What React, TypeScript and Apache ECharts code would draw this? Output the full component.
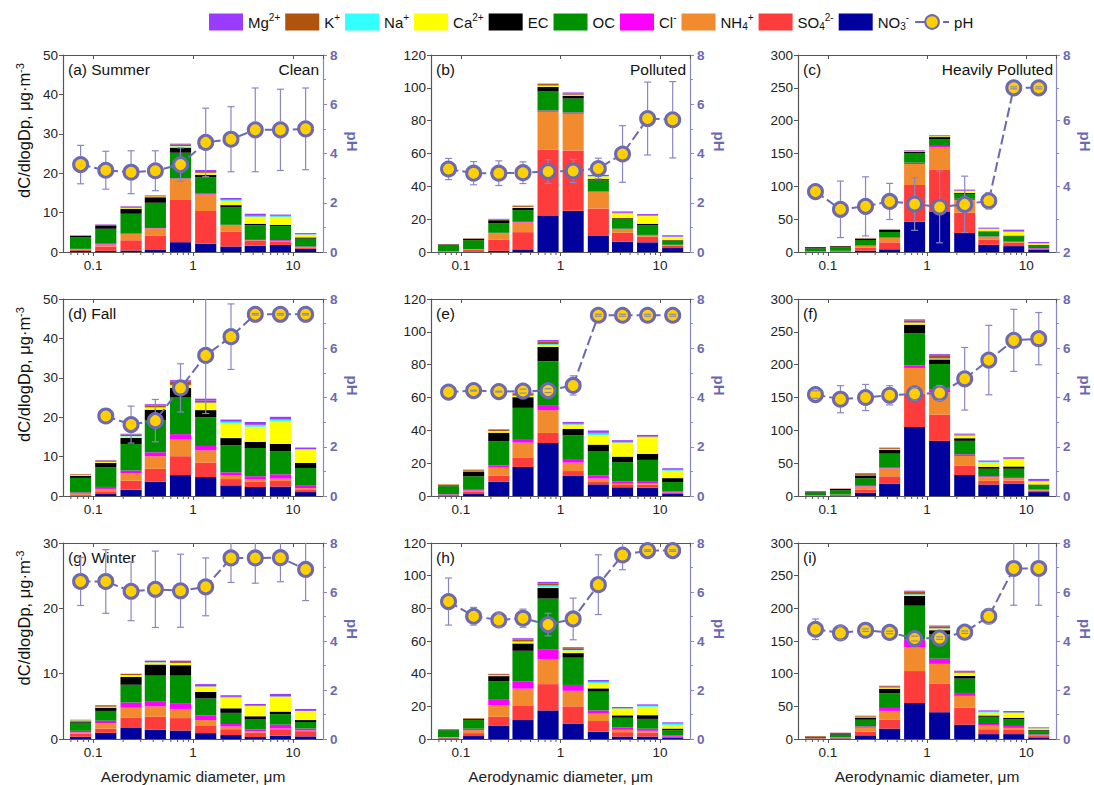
import React, { useEffect, useRef } from 'react';
import * as echarts from 'echarts';

// Size-bin centres (aerodynamic diameter, µm)
const SIZES = [0.075, 0.134, 0.24, 0.42, 0.75, 1.34, 2.4, 4.2, 7.5, 13.4];
const MINOR_TICKS = [0.06, 0.07, 0.08, 0.09, 0.2, 0.3, 0.4, 0.5, 0.6, 0.7, 0.8, 0.9, 2, 3, 4, 5, 6, 7, 8, 9];
const MAJOR_TICK_LABELS = [0.1, 1, 10];

const PANEL_LABELS = ['(a) Summer', '(b)', '(c)', '(d) Fall', '(e)', '(f)', '(g) Winter', '(h)', '(i)'];
const CONDITION_LABELS = ['Clean', 'Polluted', 'Heavily Polluted', '', '', '', '', '', ''];
const LEFT_MAX = [50, 120, 300, 50, 120, 300, 30, 120, 300];
const LEFT_STEP = [10, 20, 50, 10, 20, 50, 10, 20, 50];
const PH_MIN = [0, 0, 2, 0, 0, 0, 0, 0, 0];
const PH_MAX = 8;
const PH_STEP = 2;

// Components: one row per panel (a..i), one value per size bin
const NO3 = [
  [0.3, 0.3, 0.4, 0.5, 2.5, 2.1, 1.4, 1.6, 1.8, 0.8],
  [0.1, 0.3, 0.7, 1.6, 22.3, 25.1, 10.1, 6.3, 5.9, 2.4],
  [0.3, 0.5, 2, 4.1, 46, 61, 29, 11, 9, 3],
  [0.1, 0.5, 1.6, 3.6, 5.3, 4.8, 2.7, 2.3, 2.4, 1.0],
  [0.3, 1.2, 8.6, 17.7, 32.3, 12.2, 7.1, 5.3, 5.1, 1.2],
  [0.3, 0.8, 5, 19, 105, 84, 32, 17.5, 19, 6],
  [0.35, 0.95, 1.7, 1.4, 1.3, 0.9, 0.6, 0.3, 0.5, 0.4],
  [0.3, 1.8, 8, 11.6, 17.5, 9.5, 4.5, 1.5, 1.5, 0.6],
  [0.3, 0.8, 5.6, 16, 55, 41, 22, 7.5, 7.5, 2.5],
];
const SO4 = [
  [0.3, 1.1, 2.6, 3.6, 10.7, 8.3, 3.7, 1.2, 0.9, 0.3],
  [0.2, 0.9, 6.8, 10.5, 40.0, 36.8, 16.4, 5.4, 3.6, 1.4],
  [0.4, 0.9, 4.6, 10.6, 56, 64, 31, 7.5, 5.5, 1.5],
  [0.3, 0.7, 2.3, 3.3, 4.8, 3.7, 1.6, 1.3, 1.4, 0.7],
  [0.3, 1.3, 3.8, 5.5, 6.1, 3.0, 1.8, 1.4, 1.8, 0.7],
  [0.4, 0.8, 4.5, 11, 51, 40, 14, 5.5, 4.5, 2],
  [0.45, 0.65, 1.6, 2.0, 1.9, 1.2, 0.9, 0.7, 1.0, 0.8],
  [0.5, 1.8, 5.6, 8.6, 16.1, 10.5, 6.5, 2.7, 2.5, 0.7],
  [0.5, 1.0, 5.6, 13.5, 49, 44, 26, 7.5, 6.5, 2],
];
const NH4 = [
  [0.1, 0.5, 1.6, 1.9, 5.4, 4.2, 1.7, 0.2, 0.1, 0.1],
  [0.1, 0.5, 3.9, 5.9, 23.1, 22.3, 10.1, 2.1, 0.5, 0.3],
  [0.2, 0.3, 2.6, 6.6, 32, 35, 19, 4.5, 0.8, 0.3],
  [0.2, 0.6, 1.8, 3.2, 4.3, 3.1, 0.9, 0.6, 0.6, 0.3],
  [0.2, 0.8, 4.9, 9.3, 13.9, 5.1, 1.7, 0.8, 0.7, 0.2],
  [0.3, 0.4, 5, 12, 39, 34, 15, 5.5, 3.5, 1],
  [0.2, 0.8, 1.5, 1.6, 1.4, 0.8, 0.4, 0.2, 0.1, 0.1],
  [0.2, 1.8, 7.2, 10.6, 15.4, 9.5, 4.5, 1.4, 1.0, 0.1],
  [0.3, 0.5, 6.1, 13.5, 36, 30, 18, 5.5, 3, 0.8],
];
const CL = [
  [0.1, 0.2, 0.1, 0.1, 0.1, 0.2, 0.1, 0.3, 0.2, 0.2],
  [0, 0.1, 0.3, 0.4, 0.8, 0.8, 0.4, 0.4, 0.4, 0.3],
  [0.1, 0.1, 0.6, 1.1, 2, 1.5, 2, 0.7, 1.2, 1.0],
  [0.3, 0.5, 0.8, 1.0, 1.3, 1.1, 0.8, 0.8, 1.1, 0.6],
  [0.3, 0.5, 1.4, 1.7, 2.7, 1.7, 1.8, 1.4, 1.5, 0.6],
  [0.1, 0.2, 1.0, 2, 4, 4, 2.5, 1.5, 2, 1],
  [0.25, 0.4, 0.8, 0.8, 0.8, 0.7, 0.4, 0.3, 0.6, 0.3],
  [0.2, 0.9, 3.2, 4.3, 6.0, 3.6, 2.0, 1.4, 1.3, 0.9],
  [0.2, 0.3, 2.1, 4.5, 12, 8, 4.5, 2.5, 3, 1.7],
];
const OC = [
  [3.0, 3.8, 5.0, 6.4, 6.5, 4.2, 4.4, 3.5, 3.6, 2.0],
  [3.8, 5.4, 5.7, 7.1, 11.6, 8.5, 6.6, 5.6, 6.0, 2.4],
  [4.5, 5.2, 8.5, 8.1, 14, 10.5, 7.5, 6.8, 7.5, 4.0],
  [3.7, 5.0, 6.7, 8.2, 9.3, 7.3, 6.9, 7.2, 5.9, 4.5],
  [4.8, 8.2, 14.7, 19.5, 27, 15.0, 15.0, 11.7, 12.9, 5.8],
  [4.3, 6.5, 11.5, 20.5, 49, 39, 20.5, 11.5, 12.5, 6],
  [1.25, 1.5, 2.7, 3.9, 4.3, 2.6, 1.7, 1.5, 1.6, 1.0],
  [4.2, 5.3, 11.4, 18.9, 31, 16.7, 11.5, 6.0, 6.0, 3.1],
  [1.8, 4.2, 10.1, 22.5, 52, 37, 22, 11, 10, 5],
];
const EC = [
  [0.3, 0.7, 1.3, 1.4, 1.3, 0.6, 0.6, 0.4, 0.3, 0.3],
  [0.4, 0.8, 2.0, 1.4, 2.8, 1.7, 0.8, 0.8, 0.8, 0.4],
  [1.8, 1.8, 2.0, 3.0, 2.5, 3, 1.5, 1.0, 1.0, 1.0],
  [0.5, 1.1, 1.5, 2.6, 2.4, 1.8, 1.8, 1.6, 1.8, 1.3],
  [0.7, 3.0, 5.2, 6.5, 8.8, 3.9, 3.9, 3.4, 3.6, 2.4],
  [1.5, 2.0, 4.5, 6, 13, 7, 4, 3, 3.5, 1.5],
  [0.2, 0.5, 1.2, 1.7, 1.6, 1.0, 0.7, 0.5, 0.4, 0.3],
  [0.4, 0.6, 3.1, 4.5, 6.5, 2.8, 2.0, 1.5, 2.3, 1.0],
  [0.5, 2.0, 3.5, 7, 15, 6.5, 4, 2, 2.5, 1.5],
];
const CA = [
  [0, 0, 0.2, 0.2, 0.3, 0.4, 1.1, 1.7, 1.9, 0.7],
  [0, 0, 0.3, 0.5, 0.6, 0.4, 1.6, 2.7, 4.7, 1.8],
  [0, 0, 0.3, 0.5, 0.6, 1, 2.5, 3.0, 5.5, 2.2],
  [0.2, 0.3, 0.4, 0.5, 0.6, 1.7, 3.7, 3.8, 5.8, 3.3],
  [0.2, 0.4, 0.8, 0.8, 1.0, 2.5, 5.8, 8.4, 10.0, 4.5],
  [0.2, 0.3, 0.5, 1.0, 2, 1, 3.5, 6.5, 10.5, 4.5],
  [0.1, 0.15, 0.25, 0.3, 0.3, 0.8, 1.6, 1.55, 2.25, 1.35],
  [0.1, 0.2, 0.5, 1.0, 0.5, 1.6, 3.2, 4.0, 5.1, 2.2],
  [0.2, 0.3, 1.0, 1.5, 0.8, 2.5, 3.5, 4.5, 7, 2.5],
];
const NA = [
  [0, 0, 0, 0, 0.1, 0.1, 0.2, 0.2, 0.3, 0.1],
  [0, 0, 0, 0.1, 0.2, 0.2, 0.2, 0.4, 0.2, 0.3],
  [0, 0, 0, 0.1, 0.2, 0.3, 0.5, 0.8, 0.5, 0.3],
  [0, 0, 0.1, 0.1, 0.2, 0.2, 0.4, 0.4, 0.4, 0.2],
  [0, 0, 0.2, 0.2, 0.7, 0.3, 1.0, 0.3, 0.4, 0.4],
  [0, 0, 0.2, 0.3, 1, 0.5, 0.8, 0.8, 0.8, 0.5],
  [0.05, 0, 0.05, 0.05, 0.05, 0.05, 0.1, 0.05, 0.05, 0.05],
  [0, 0, 0.1, 0.2, 1.0, 0.3, 0.8, 0.3, 0.5, 0.7],
  [0, 0, 0.2, 0.3, 1.7, 0.5, 1.5, 1.3, 1.0, 0.4],
];
const K = [
  [0.1, 0.3, 0.3, 0.2, 0.4, 0.2, 0.1, 0.1, 0.1, 0],
  [0.1, 0.3, 0.4, 0.6, 0.9, 0.8, 0.1, 0.2, 0.1, 0.1],
  [0.3, 0.4, 0.6, 0.8, 1.1, 1.0, 0.6, 0.3, 0.3, 0.2],
  [0.2, 0.3, 0.4, 0.5, 0.8, 0.5, 0.1, 0.1, 0.1, 0],
  [0.3, 0.5, 0.8, 1.2, 1.5, 0.5, 0.4, 0.3, 0.3, 0.2],
  [0.5, 0.5, 2.3, 1.4, 3.5, 5, 1.2, 0.5, 0.5, 0.5],
  [0.1, 0.2, 0.15, 0.2, 0.3, 0.05, 0.05, 0, 0.05, 0],
  [0.2, 0.4, 0.6, 1.3, 1.3, 1.1, 0.4, 0.2, 0.3, 0.2],
  [0.8, 0.4, 1.2, 2.0, 4.0, 3.0, 1.2, 0.5, 0.5, 0.3],
];
const MG = [
  [0, 0.1, 0.1, 0.1, 0.2, 0.5, 0.4, 0.5, 0.3, 0.3],
  [0, 0, 0.1, 0.2, 0.3, 0.6, 0.7, 0.8, 0.9, 0.8],
  [0, 0, 0.2, 0.2, 0.6, 0.7, 1.4, 1.5, 2.7, 1.7],
  [0, 0.1, 0.2, 0.3, 0.4, 0.5, 0.5, 0.7, 0.6, 0.4],
  [0, 0.2, 0.3, 0.6, 1.0, 0.9, 1.4, 1.0, 0.9, 0.9],
  [0, 0.2, 0.5, 0.5, 1.5, 1.5, 1.5, 1.7, 2.2, 3],
  [0, 0.05, 0.05, 0.05, 0.05, 0.3, 0.25, 0.25, 0.35, 0.3],
  [0, 0, 0.2, 0.7, 0.9, 0.6, 0.7, 0.6, 0.7, 0.7],
  [0, 0.2, 0.3, 0.7, 1.5, 1.2, 1.8, 1.5, 1.8, 1.1],
];

const PH = [
  [3.55, 3.32, 3.24, 3.3, 3.55, 4.45, 4.58, 4.96, 4.96, 5.0],
  [3.37, 3.2, 3.2, 3.22, 3.27, 3.29, 3.39, 3.98, 5.42, 5.37],
  [3.84, 3.3, 3.39, 3.54, 3.46, 3.37, 3.45, 3.56, 7.0, 7.0],
  [null, 3.25, 2.9, 3.06, 4.39, 5.71, 6.47, 7.38, 7.38, 7.38],
  [4.22, 4.28, 4.24, 4.26, 4.28, 4.49, 7.34, 7.34, 7.34, 7.34],
  [4.12, 3.93, 4.0, 4.09, 4.15, 4.18, 4.76, 5.52, 6.32, 6.39],
  [6.43, 6.43, 6.03, 6.11, 6.05, 6.21, 7.39, 7.39, 7.4, 6.92],
  [5.61, 5.01, 4.86, 4.93, 4.67, 4.9, 6.3, 7.51, 7.69, 7.69],
  [4.48, 4.33, 4.44, 4.35, 4.1, 4.12, 4.36, 5.01, 6.96, 6.96],
];
const PH_ERR = [
  [0.78, 0.77, 0.87, 0.81, 0.68, 1.39, 1.32, 1.7, 1.65, 1.66],
  [0.43, 0.47, 0.5, 0.44, 0.48, 0.47, 0.42, 1.15, 1.48, 1.55],
  [0, 0.86, 0.9, 0.55, 0.8, 1.09, 0.86, 0.25, 0.03, 0.03],
  [null, 0, 0.75, 0.86, 0.98, 2.36, 1.33, 0.03, 0.03, 0.03],
  [0, 0.02, 0.02, 0.08, 0.08, 0.39, 0.04, 0.04, 0.04, 0.04],
  [0.15, 0.55, 0.53, 0.39, 0.25, 0.3, 1.27, 1.41, 1.26, 1.06],
  [0.98, 1.3, 1.2, 1.56, 1.49, 1.18, 1.0, 1.03, 0.98, 1.27],
  [0.96, 0.36, 0.28, 0.37, 0.46, 0.85, 1.22, 0.6, 0.03, 0.03],
  [0.42, 0.28, 0.05, 0.05, 0.1, 0.05, 0.05, 0.3, 1.5, 1.5],
];

// stacking order, bottom to top
const COMPONENTS = [
  { name: 'NO3-', values: NO3, color: '#00009C' },
  { name: 'SO42-', values: SO4, color: '#FF3C3C' },
  { name: 'NH4+', values: NH4, color: '#F28A2E' },
  { name: 'Cl-', values: CL, color: '#FF00FF' },
  { name: 'OC', values: OC, color: '#009100' },
  { name: 'EC', values: EC, color: '#000000' },
  { name: 'Ca2+', values: CA, color: '#FFFF00' },
  { name: 'Na+', values: NA, color: '#33FFFF' },
  { name: 'K+', values: K, color: '#B0530E' },
  { name: 'Mg2+', values: MG, color: '#9A3CFF' },
];
const LEGEND_ORDER = ['Mg2+', 'K+', 'Na+', 'Ca2+', 'EC', 'OC', 'Cl-', 'NH4+', 'SO42-', 'NO3-', 'pH'];
const LEGEND_RICH: Record<string, string> = {
  'Mg2+': 'Mg{sup|2+}',
  'K+': 'K{sup|+}',
  'Na+': 'Na{sup|+}',
  'Ca2+': 'Ca{sup|2+}',
  EC: 'EC',
  OC: 'OC',
  'Cl-': 'Cl{sup|-}',
  'NH4+': 'NH{sub|4}{sup|+}',
  'SO42-': 'SO{sub|4}{sup|2-}',
  'NO3-': 'NO{sub|3}{sup|-}',
  pH: 'pH',
};

// layout
const COL_LEFT = [63, 431, 798];
const COL_WIDTH = [260, 259, 259];
const ROW_TOP = [55, 299, 543];
const ROW_HEIGHT = 197;
const CHART_W = 1094;
const BAR_HALF_DECADE = 0.106;

const FONT = 'Liberation Sans, Arial, Helvetica, sans-serif';
const AXIS_GRAY = '#555555';
const PH_COLOR = '#6C68B2';
const PH_AXIS = '#8A86C4';
const MARKER_FILL = '#FFD000';

function buildOption() {
  const grids: any[] = [];
  const xAxes: any[] = [];
  const yAxes: any[] = [];
  const series: any[] = [];
  const graphics: any[] = [];

  for (let p = 0; p < 9; p++) {
    const r = Math.floor(p / 3);
    const c = p % 3;
    grids.push({ left: COL_LEFT[c], top: ROW_TOP[r], width: COL_WIDTH[c], height: ROW_HEIGHT, containLabel: false });

    xAxes.push({
      type: 'log', logBase: 10, gridIndex: p, position: 'bottom', min: 0.05, max: 20,
      axisLine: { show: true, onZero: false, lineStyle: { color: AXIS_GRAY, width: 1.2 } },
      axisTick: { show: true, length: 4, lineStyle: { color: AXIS_GRAY } },
      axisLabel: {
        show: true, margin: 6, fontSize: 13.5, color: '#222', fontFamily: FONT,
        showMinLabel: false, showMaxLabel: false,
        formatter: (v: number) => {
          const n = Number(Number(v).toPrecision(2));
          return MAJOR_TICK_LABELS.indexOf(n) >= 0 ? String(n) : '';
        },
      },
      splitLine: { show: false },
      name: r === 2 ? 'Aerodynamic diameter, μm' : '',
      nameLocation: 'middle', nameGap: 29,
      nameTextStyle: { fontSize: 15.5, color: '#222', fontFamily: FONT },
    });
    xAxes.push({
      type: 'log', logBase: 10, gridIndex: p, position: 'top', min: 0.05, max: 20,
      axisLine: { show: true, onZero: false, lineStyle: { color: AXIS_GRAY, width: 1.2 } },
      axisTick: { show: true, inside: true, length: 4, lineStyle: { color: AXIS_GRAY } },
      axisLabel: { show: false },
      splitLine: { show: false },
    });

    yAxes.push({
      type: 'value', gridIndex: p, position: 'left', min: 0, max: LEFT_MAX[p], interval: LEFT_STEP[p],
      axisLine: { show: true, onZero: false, lineStyle: { color: AXIS_GRAY, width: 1.2 } },
      axisTick: { show: true, length: 4, lineStyle: { color: AXIS_GRAY } },
      axisLabel: { fontSize: 13.5, color: '#222', margin: 5, fontFamily: FONT },
      splitLine: { show: false },
      name: c === 0 ? 'dC/dlogDp, μg·m{sup|-3}' : '',
      nameLocation: 'middle', nameGap: 29,
      nameTextStyle: {
        fontSize: 16.5, color: '#111', fontFamily: FONT, padding: [0, 0, 0, 46],
        rich: { sup: { fontSize: 11, color: '#111', fontFamily: FONT, padding: [0, 0, 9, 0] } },
      },
    });
    yAxes.push({
      type: 'value', gridIndex: p, position: 'right', min: PH_MIN[p], max: PH_MAX, interval: PH_STEP,
      axisLine: { show: true, onZero: false, lineStyle: { color: PH_AXIS, width: 1.2 } },
      axisTick: { show: true, length: 4, lineStyle: { color: PH_AXIS } },
      minorTick: { show: true, splitNumber: 2, length: 3, lineStyle: { color: PH_AXIS } },
      axisLabel: { fontSize: 13.5, color: PH_COLOR, fontWeight: 'bold', margin: 7, fontFamily: FONT },
      splitLine: { show: false },
      minorSplitLine: { show: false },
      name: 'pH', nameLocation: 'middle', nameRotate: -90, nameGap: 22,
      nameTextStyle: { fontSize: 15, color: PH_COLOR, fontWeight: 'bold', fontFamily: FONT, padding: [0, 24, 0, 0] },
    });

    // stacked bars
    const base = SIZES.map(() => 0);
    COMPONENTS.forEach((comp) => {
      const vals = comp.values[p];
      const data = SIZES.map((s, i) => {
        const y0 = base[i];
        const y1 = y0 + vals[i];
        base[i] = y1;
        return [s, y0, y1];
      });
      const color = comp.color;
      series.push({
        type: 'custom', name: comp.name, coordinateSystem: 'cartesian2d',
        xAxisIndex: 2 * p, yAxisIndex: 2 * p, z: 2, clip: true,
        itemStyle: { color },
        encode: { x: 0, y: [1, 2] },
        data,
        renderItem: (params: any, api: any) => {
          const x = api.value(0);
          const y0 = api.value(1);
          const y1 = api.value(2);
          if (!(y1 > y0)) return null;
          const f = Math.pow(10, BAR_HALF_DECADE);
          const tl = api.coord([x / f, y1]);
          const br = api.coord([x * f, y0]);
          return {
            type: 'rect',
            shape: { x: tl[0], y: tl[1], width: br[0] - tl[0], height: br[1] - tl[1] },
            style: { fill: color },
          };
        },
        silent: true,
      });
    });

    // minor ticks of the log axis
    series.push({
      type: 'custom', coordinateSystem: 'cartesian2d', xAxisIndex: 2 * p, yAxisIndex: 2 * p,
      clip: false, silent: true, z: 5,
      encode: { x: 0, y: 1 },
      data: MINOR_TICKS.map((v) => [v, 0]),
      renderItem: (params: any, api: any) => {
        const pt = api.coord([api.value(0), 0]);
        return {
          type: 'line',
          shape: { x1: pt[0], y1: pt[1], x2: pt[0], y2: pt[1] + 3 },
          style: { stroke: AXIS_GRAY, lineWidth: 1 },
        };
      },
    });

    // pH line
    const phData = SIZES.map((s, i) => [s, PH[p][i]]).filter((d) => d[1] !== null);
    series.push({
      type: 'line', name: 'pH', xAxisIndex: 2 * p, yAxisIndex: 2 * p + 1, z: 3,
      data: phData,
      symbol: 'circle', symbolSize: 14, showSymbol: true,
      itemStyle: { color: MARKER_FILL, borderColor: PH_COLOR, borderWidth: 3 },
      lineStyle: { color: PH_COLOR, width: 2, type: [10, 4] },
      silent: true,
    });

    // pH error bars
    const errData = SIZES.map((s, i) => [s, PH[p][i], PH_ERR[p][i]]).filter((d) => d[1] !== null);
    series.push({
      type: 'custom', coordinateSystem: 'cartesian2d', xAxisIndex: 2 * p, yAxisIndex: 2 * p + 1,
      clip: true, silent: true, z: 4,
      encode: { x: 0, y: 1 },
      data: errData,
      renderItem: (params: any, api: any) => {
        const x = api.value(0);
        const v = api.value(1);
        const e = api.value(2);
        if (!e) return null;
        const c0 = api.coord([x, v]);
        const t = api.coord([x, v + e]);
        const b = api.coord([x, v - e]);
        const rad = 8;
        const st = { stroke: PH_AXIS, lineWidth: 1.2 };
        const children: any[] = [];
        if (c0[1] - t[1] > rad) children.push({ type: 'line', shape: { x1: t[0], y1: t[1], x2: t[0], y2: c0[1] - rad }, style: st });
        if (b[1] - c0[1] > rad) children.push({ type: 'line', shape: { x1: b[0], y1: c0[1] + rad, x2: b[0], y2: b[1] }, style: st });
        children.push({ type: 'line', shape: { x1: t[0] - 3.5, y1: t[1], x2: t[0] + 3.5, y2: t[1] }, style: st });
        children.push({ type: 'line', shape: { x1: b[0] - 3.5, y1: b[1], x2: b[0] + 3.5, y2: b[1] }, style: st });
        return { type: 'group', children };
      },
    });

    graphics.push({
      type: 'text', left: COL_LEFT[c] + 5, top: ROW_TOP[r] + 6.5, silent: true,
      style: { text: PANEL_LABELS[p], fontSize: 15.5, fontFamily: FONT, fill: '#111' },
    });
    if (CONDITION_LABELS[p]) {
      graphics.push({
        type: 'text', right: CHART_W - (COL_LEFT[c] + COL_WIDTH[c]) + 4, top: ROW_TOP[r] + 6.5, silent: true,
        style: { text: CONDITION_LABELS[p], fontSize: 15.5, fontFamily: FONT, fill: '#111' },
      });
    }
  }

  return {
    animation: false,
    backgroundColor: '#ffffff',
    textStyle: { fontFamily: FONT },
    legend: {
      left: 204, top: 7, itemWidth: 34, itemHeight: 17, itemGap: 5, selectedMode: false,
      data: LEGEND_ORDER.map((n) => (n === 'pH' ? { name: n } : { name: n, icon: 'rect' })),
      formatter: (name: string) => LEGEND_RICH[name] || name,
      textStyle: {
        fontSize: 15, color: '#111', fontFamily: FONT,
        rich: {
          sup: { fontSize: 10, color: '#111', fontFamily: FONT, padding: [0, 0, 10, 0] },
          sub: { fontSize: 10, color: '#111', fontFamily: FONT, padding: [8, 0, 0, 0] },
        },
      },
    },
    grid: grids,
    xAxis: xAxes,
    yAxis: yAxes,
    series,
    graphic: graphics,
  };
}

export default function App() {
  const ref = useRef<HTMLDivElement>(null);
  useEffect(() => {
    if (!ref.current) return;
    const chart = echarts.init(ref.current, undefined, { renderer: 'svg' });
    chart.setOption(buildOption() as any);
    return () => chart.dispose();
  }, []);
  return (
    <div
      ref={ref}
      style={{ position: 'fixed', left: 0, top: 0, width: CHART_W, height: 785, background: '#fff' }}
    />
  );
}
